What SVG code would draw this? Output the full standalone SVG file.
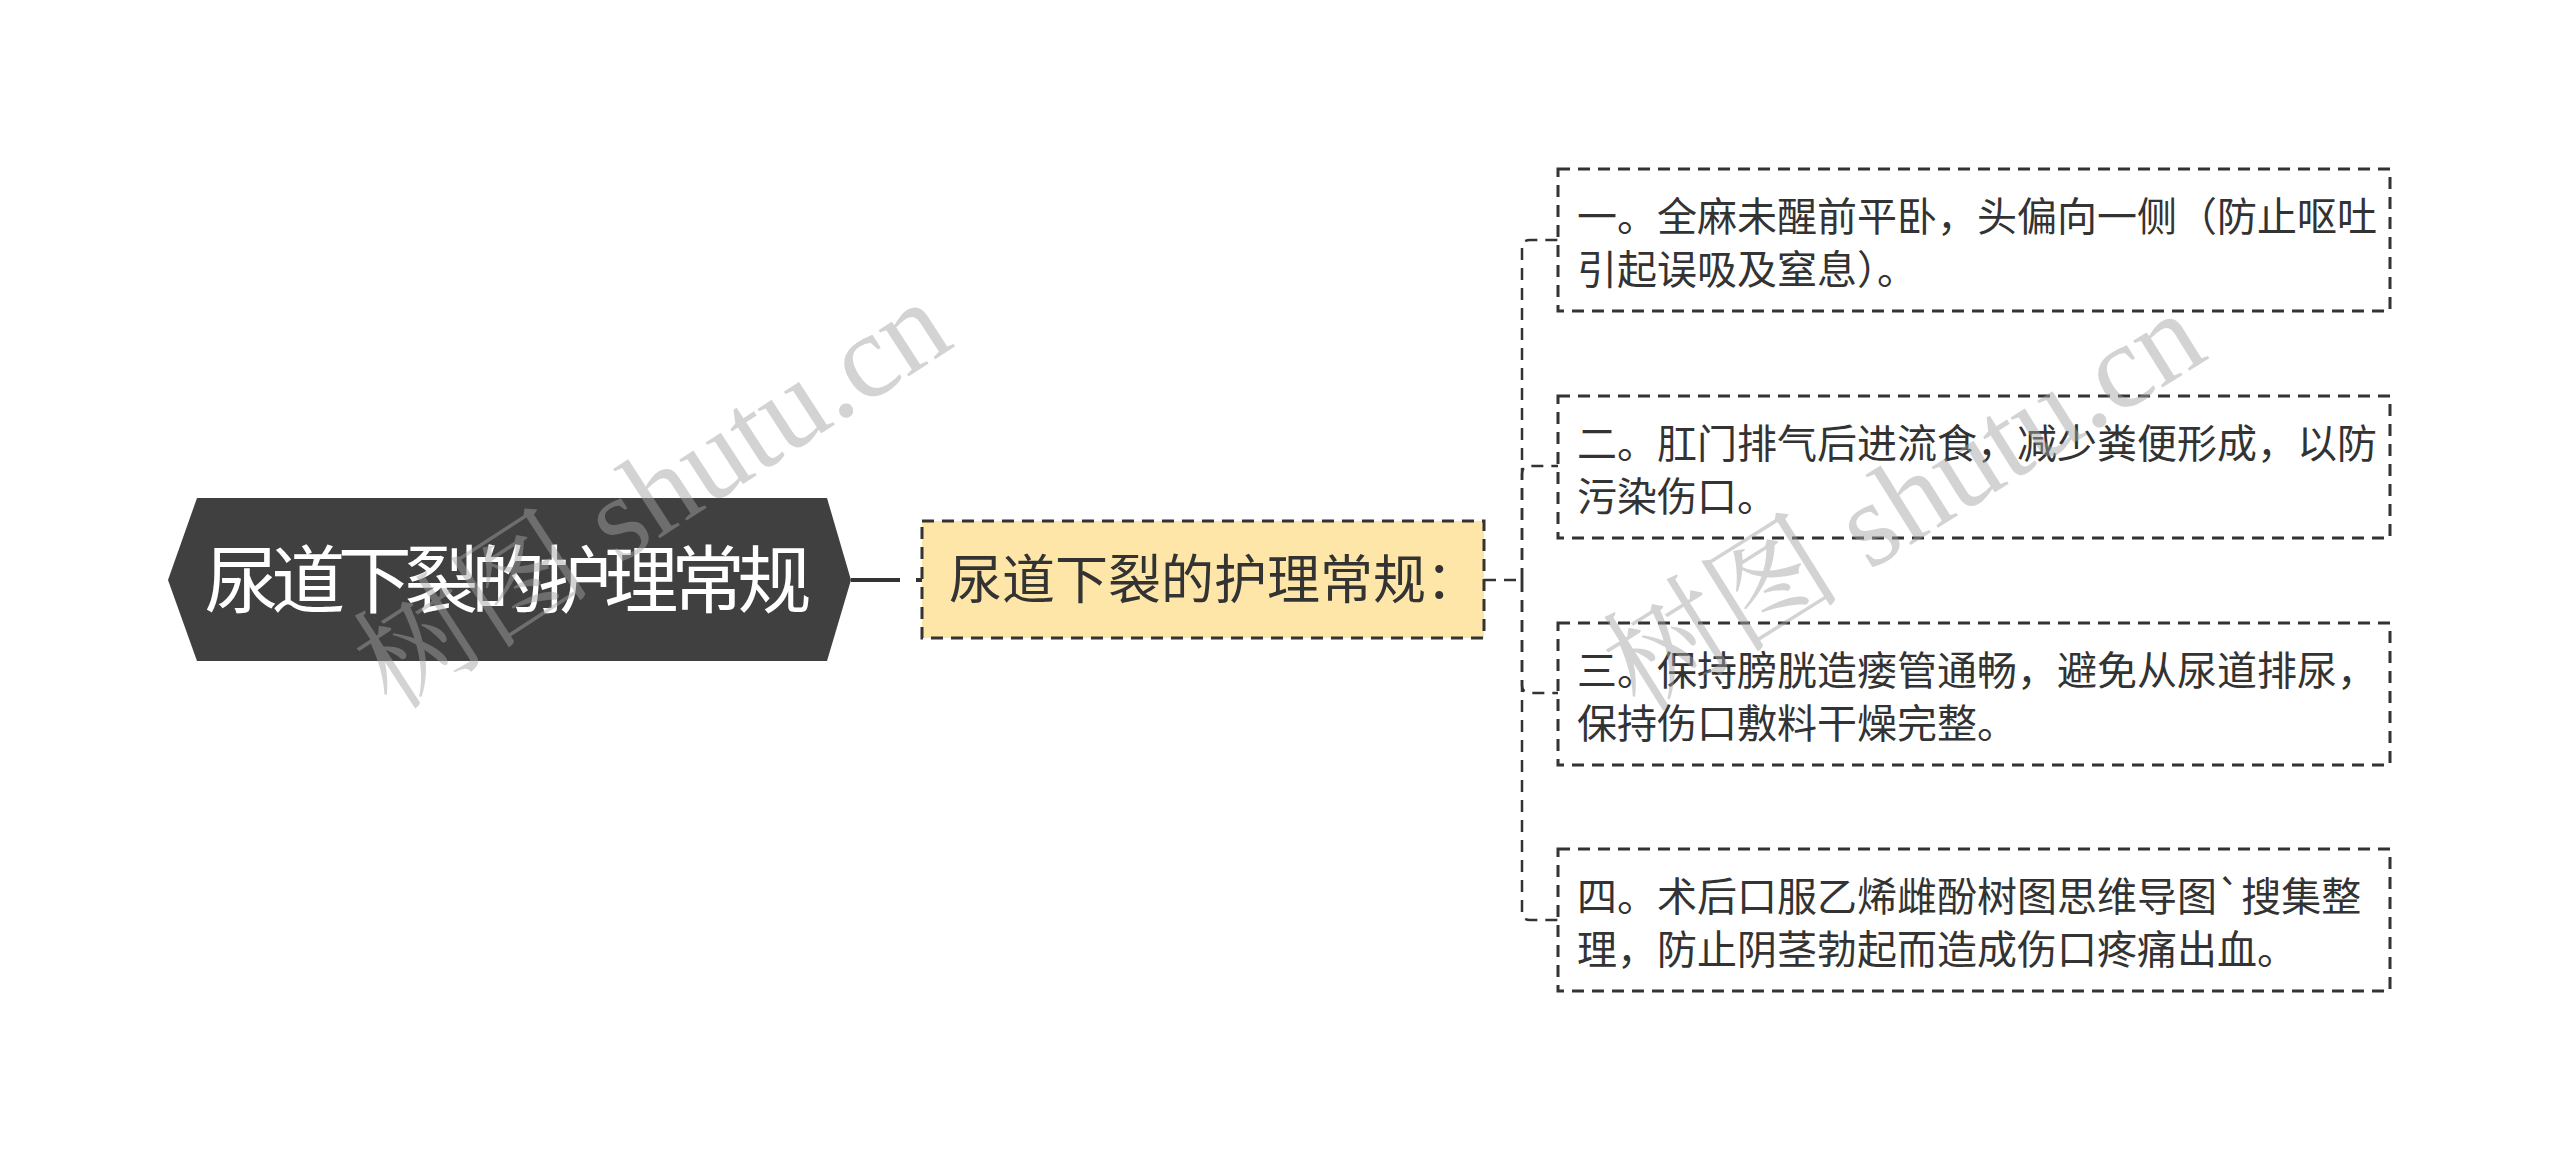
<svg xmlns="http://www.w3.org/2000/svg" width="2560" height="1161" viewBox="0 0 2560 1161">
<style>
  .cjk { font-family: "Noto Sans CJK SC", "Noto Sans", sans-serif; }
  .root-text { font-size: 74px; fill: #ffffff; }
  .sub-text { font-size: 53px; fill: #333333; }
  .leaf-text { font-size: 40px; fill: #333333; }
  .leaf-box { fill: #ffffff; stroke: #333333; stroke-width: 3; stroke-dasharray: 12 8; }
  .conn { fill: none; stroke: #333333; stroke-width: 2.5; stroke-dasharray: 12 8; }
  .wm { font-family: "Liberation Serif", "Noto Serif CJK SC", "Noto Sans CJK SC", serif; font-size: 120px; fill: #a2a2a2; fill-opacity: 0.47; }
</style>
<rect width="2560" height="1161" fill="#ffffff"/>

<g id="connectors">
  <path d="M851 580 H922" fill="none" stroke="#333333" stroke-width="4" stroke-dasharray="49 16 20"/>
  <path class="conn" d="M1484 580 H1522"/>
  <path class="conn" d="M1522 580 V248 Q1522 240 1530 240 H1558"/>
  <path class="conn" d="M1522 580 V474 Q1522 466 1530 466 H1558"/>
  <path class="conn" d="M1522 580 V685 Q1522 693 1530 693 H1558"/>
  <path class="conn" d="M1522 580 V912 Q1522 920 1530 920 H1558"/>
</g>

<g id="root">
  <polygon points="168,580 197,498 827,498 851,580 827,661 197,661" fill="#404040"/>
  <text class="cjk root-text" x="508" y="607" text-anchor="middle" textLength="607" lengthAdjust="spacing">尿道下裂的护理常规</text>
</g>

<g id="sub">
  <rect x="922" y="521" width="562" height="117" fill="#fee6a8" stroke="#333333" stroke-width="3" stroke-dasharray="12 8"/>
  <text class="cjk sub-text" x="949" y="599">尿道下裂的护理常规：</text>
</g>

<g id="leaf1">
  <rect class="leaf-box" x="1558" y="169" width="832" height="142"/>
  <text class="cjk leaf-text" x="1577" y="231">一。全麻未醒前平卧，头偏向一侧（防止呕吐</text>
  <text class="cjk leaf-text" x="1577" y="284">引起误吸及窒息）。</text>
</g>

<g id="leaf2">
  <rect class="leaf-box" x="1558" y="396" width="832" height="142"/>
  <text class="cjk leaf-text" x="1577" y="458">二。肛门排气后进流食，减少粪便形成，以防</text>
  <text class="cjk leaf-text" x="1577" y="511">污染伤口。</text>
</g>

<g id="leaf3">
  <rect class="leaf-box" x="1558" y="623" width="832" height="142"/>
  <text class="cjk leaf-text" x="1577" y="685">三。保持膀胱造瘘管通畅，避免从尿道排尿，</text>
  <text class="cjk leaf-text" x="1577" y="738">保持伤口敷料干燥完整。</text>
</g>

<g id="leaf4">
  <rect class="leaf-box" x="1558" y="849" width="832" height="142"/>
  <text class="cjk leaf-text" x="1577" y="911">四。术后口服乙烯雌酚树图思维导图`搜集整</text>
  <text class="cjk leaf-text" x="1577" y="964">理，防止阴茎勃起而造成伤口疼痛出血。</text>
</g>

<g id="watermarks">
  <text class="wm" transform="translate(392 712) rotate(-33)">树图 shutu.cn</text>
  <text class="wm" transform="translate(1640 714) rotate(-32)">树图 shutu.cn</text>
</g>
</svg>
